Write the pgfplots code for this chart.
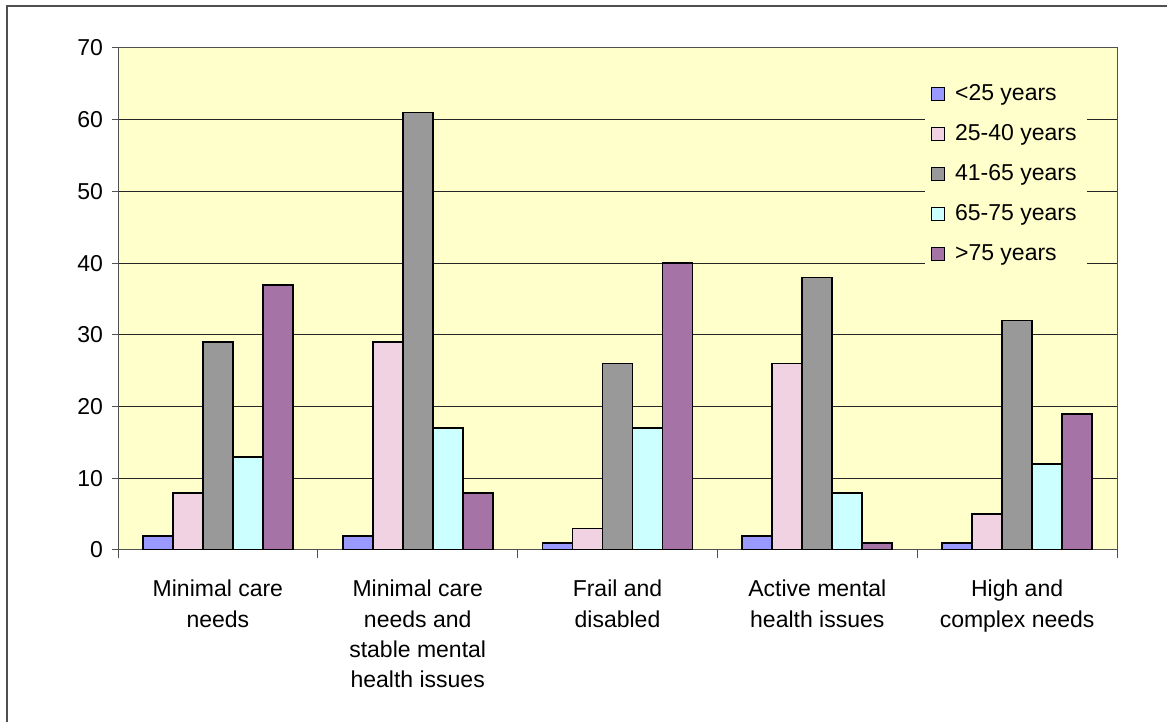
\documentclass[border=0pt]{standalone}
\usepackage{pgfplots}
\usepackage{pgfplotstable}
\pgfplotsset{compat=1.18}
\usepackage{fontspec}
\setmainfont{Liberation Sans}
\definecolor{bgyel}{HTML}{FFFFCC}
\definecolor{cA}{HTML}{9999FF}
\definecolor{cB}{HTML}{F0D2E2}
\definecolor{cC}{HTML}{999999}
\definecolor{cD}{HTML}{CCFFFF}
\definecolor{cE}{HTML}{A673A6}
\definecolor{axgray}{HTML}{505050}
\pgfplotstableread{
x a b c d e
0 2 8 29 13 37
1 2 29 61 17 8
2 1 3 26 17 40
3 2 26 38 8 1
4 1 5 32 12 19
}\datatable
\begin{document}
\begin{tikzpicture}
\useasboundingbox (0,0) rectangle (583.5pt,361pt);
\draw[axgray, line width=0.6pt] (3.5pt,0pt) -- (3.5pt,358pt) -- (583.5pt,358pt);
\begin{axis}[
  at={(59pt,86pt)}, anchor=south west,
  scale only axis, width=499.5pt, height=251pt,
  ybar=0pt, bar width=15pt,
  xmin=-0.5, xmax=4.5, ymin=0, ymax=70,
  ytick={0,10,...,70},
  xtick={0,...,4},
  xticklabels={Minimal care\\needs, Minimal care\\needs and\\stable mental\\health issues, Frail and\\disabled, Active mental\\health issues, High and\\complex needs},
  minor xtick={-0.5,0.5,...,4.5},
  major x tick style={draw=none},
  minor tick length=4pt,
  major tick length=3pt,
  tick align=outside,
  tick style={axgray, line width=0.5pt},
  ytick pos=left, xtick pos=bottom,
  ymajorgrids,
  major grid style={black!85, line width=0.5pt},
  axis line style={axgray, line width=0.5pt},
  axis background/.style={fill=bgyel},
  /pgf/number format/assume math mode=true,
  tick label style={font=\fontsize{11.5}{15.2}\selectfont},
  xticklabel style={align=center, yshift=-8.5pt},
  yticklabel style={xshift=-1pt},
  every axis plot/.append style={draw=black, line width=0.9pt},
  legend style={draw=none, fill=bgyel, at={(0.807,0.956)}, anchor=north west,
    font=\fontsize{11.5}{13}\selectfont, row sep=6.5pt, inner xsep=3pt, inner ysep=5pt},
  legend cell align=left,
  legend image code/.code={\draw[#1, line width=0.6pt] (0pt,-3.25pt) rectangle (6.5pt,3.25pt); \path (9.5pt,0pt);},
]
\addplot[fill=cA] table[x=x,y=a] {\datatable};
\addplot[fill=cB] table[x=x,y=b] {\datatable};
\addplot[fill=cC] table[x=x,y=c] {\datatable};
\addplot[fill=cD] table[x=x,y=d] {\datatable};
\addplot[fill=cE] table[x=x,y=e] {\datatable};
\legend{<25 years, 25-40 years, 41-65 years, 65-75 years, >75 years}
\node[font=\bfseries\fontsize{11.5}{13}\selectfont] at (axis description cs:-0.058,0.494) {N};
\end{axis}
\end{tikzpicture}
\end{document}
